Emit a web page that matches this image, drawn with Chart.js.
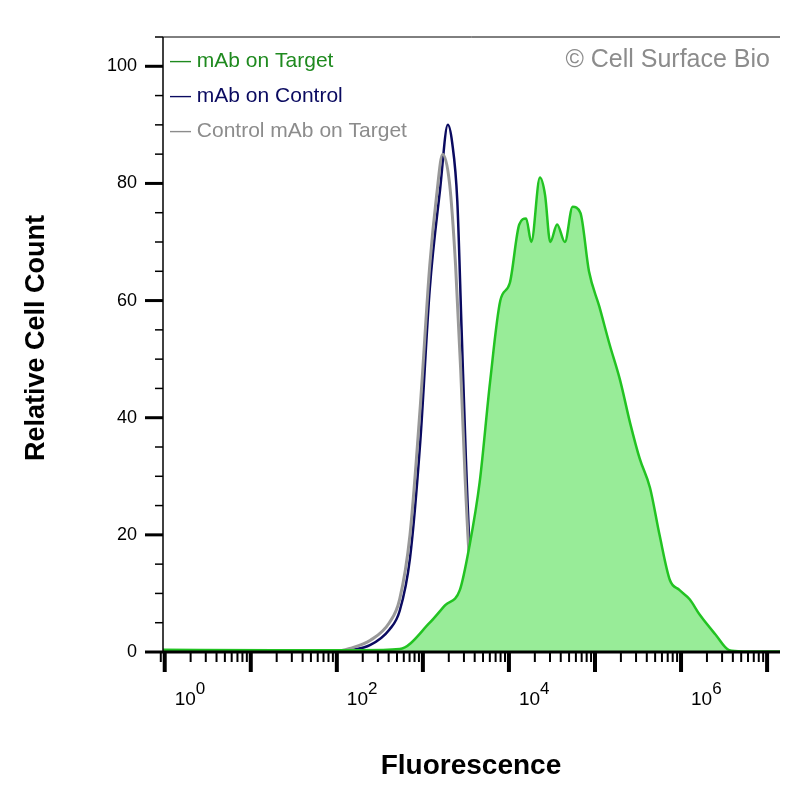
<!DOCTYPE html>
<html><head><meta charset="utf-8">
<script src="https://cdn.jsdelivr.net/npm/chart.js@4"></script>
<style>body{margin:0;background:#fff}#wrap{width:800px;height:800px}</style>
</head><body><div id="wrap"><canvas id="c"></canvas></div>
<script>
// x values are log10(fluorescence)
const targetX = [-0.02, 1.28, 2.27, 2.73, 3.08, 3.26, 3.43, 3.54, 3.66, 3.78, 3.9, 4.01, 4.12, 4.2, 4.26, 4.36, 4.42, 4.48, 4.56, 4.65, 4.74, 4.83, 4.93, 5.05, 5.17, 5.29, 5.41, 5.52, 5.64, 5.75, 5.87, 5.98, 6.1, 6.22, 6.4, 6.56, 6.71, 7.2];
const targetY = [0.4, 0.3, 0.3, 0.5, 5, 8, 10.6, 18, 29, 46, 60, 63, 73, 74, 70, 81, 78, 70, 73, 70, 76, 75, 65, 59, 52.5, 46.5, 39, 33, 28, 20, 12.3, 10.6, 9, 6.3, 3, 0.3, 0.1, 0.1];
const controlX = [1.97, 2.15, 2.39, 2.61, 2.73, 2.85, 2.97, 3.08, 3.2, 3.29, 3.34, 3.4, 3.45, 3.5, 3.55, 3.66, 3.78, 3.9, 4.12, 4.34];
const controlY = [0, 0.3, 1.2, 3.8, 7, 16, 36, 62, 79, 90, 87, 77, 55, 33, 16, 5.5, 2.4, 1.2, 0.7, 0.1];
const isoX = [1.97, 2.15, 2.39, 2.61, 2.73, 2.85, 2.97, 3.08, 3.16, 3.23, 3.31, 3.38, 3.44, 3.49, 3.54, 3.66, 3.78, 3.9, 4.12, 4.34];
const isoY = [0, 0.6, 2, 5, 9, 20, 42, 66, 78, 85, 80, 66, 48, 30, 16, 6, 2.5, 1, 0.4, 0.1];
const legendNames = ['mAb on Target', 'mAb on Control', 'Control mAb on Target'];
const legendColors = ['#1f8a1f', '#0a0a60', '#8c8c8c'];
const decades = [0, 2, 4, 6];

const pts = (xs, ys) => xs.map((x, i) => ({x: x, y: ys[i]}));
const FONT = 'Arial, "Liberation Sans"';

const overlay = {
  id: 'overlay',
  afterDraw(chart) {
    const ctx = chart.ctx, a = chart.chartArea;
    const xs = chart.scales.x, ys = chart.scales.y;
    ctx.save();
    ctx.strokeStyle = '#000';
    ctx.lineWidth = 1;
    ctx.beginPath(); ctx.moveTo(a.left, a.top); ctx.lineTo(a.right, a.top); ctx.stroke();
    ctx.lineWidth = 1.5;
    ctx.beginPath(); ctx.moveTo(a.left, a.top); ctx.lineTo(a.left, a.bottom); ctx.stroke();
    ctx.lineWidth = 3;
    ctx.beginPath(); ctx.moveTo(a.left, a.bottom); ctx.lineTo(a.right, a.bottom); ctx.stroke();
    for (let v = 0; v <= 105; v += 5) {
      const p = ys.getPixelForValue(v);
      const major = v % 20 === 0;
      ctx.lineWidth = major ? 3 : 1.5;
      ctx.beginPath(); ctx.moveTo(a.left - (major ? 18 : 8), p); ctx.lineTo(a.left, p); ctx.stroke();
    }
    for (let d = -1; d <= 7; d++) {
      for (let k = 1; k <= 9; k++) {
        const v = d + Math.log10(k);
        if (v < xs.min - 0.03 || v > xs.max) continue;
        const p = xs.getPixelForValue(v);
        const major = k === 1;
        ctx.lineWidth = major ? 4 : 2;
        ctx.beginPath(); ctx.moveTo(p, a.bottom); ctx.lineTo(p, a.bottom + (major ? 20 : 10)); ctx.stroke();
      }
    }
    ctx.fillStyle = '#000';
    decades.forEach(d => {
      const p = xs.getPixelForValue(d);
      ctx.font = '19px ' + FONT;
      ctx.textAlign = 'left'; ctx.textBaseline = 'alphabetic';
      ctx.fillText('10', p + 10, a.bottom + 53);
      const w = ctx.measureText('10').width;
      ctx.font = '17px ' + FONT;
      ctx.fillText(String(d), p + 10 + w, a.bottom + 42);
    });
    ctx.font = 'bold 28px ' + FONT;
    ctx.textAlign = 'center';
    ctx.fillText('Fluorescence', 471, 774);
    ctx.save();
    ctx.translate(44, 338);
    ctx.rotate(-Math.PI / 2);
    ctx.font = 'bold 27px ' + FONT;
    ctx.fillText('Relative Cell Count', 0, 0);
    ctx.restore();
    ctx.font = '21px ' + FONT;
    ctx.textAlign = 'left'; ctx.textBaseline = 'middle';
    legendNames.forEach((n, i) => {
      ctx.fillStyle = legendColors[i];
      ctx.fillText('\u2014 ' + n, a.left + 7, 61 + i * 35);
    });
    ctx.fillStyle = '#8c8c8c';
    ctx.font = '25px ' + FONT;
    ctx.textAlign = 'right';
    ctx.fillText('\u00a9 Cell Surface Bio', a.right - 10, 60);
    ctx.restore();
  }
};

new Chart(document.getElementById('c'), {
  type: 'line',
  data: {
    datasets: [
      {label: legendNames[0], data: pts(targetX, targetY), borderColor: '#22c322', backgroundColor: '#98ec98', fill: 'origin', borderWidth: 2.5, pointRadius: 0, cubicInterpolationMode: 'monotone'},
      {label: legendNames[2], data: pts(isoX, isoY), borderColor: '#999999', fill: false, borderWidth: 3, pointRadius: 0, cubicInterpolationMode: 'monotone'},
      {label: legendNames[1], data: pts(controlX, controlY), borderColor: '#0a0a60', fill: false, borderWidth: 2.5, pointRadius: 0, cubicInterpolationMode: 'monotone'}
    ]
  },
  options: {
    responsive: true, maintainAspectRatio: false, animation: false,
    layout: {padding: {left: 0, right: 20, top: 37, bottom: 0}},
    plugins: {legend: {display: false}, tooltip: {enabled: false}},
    scales: {
      x: {type: 'linear', min: -0.02, max: 7.15, grid: {display: false, drawTicks: false}, border: {display: false}, ticks: {display: false},
        afterFit(s) { s.height = 148; }},
      y: {min: 0, max: 105, grid: {display: false, drawTicks: false}, border: {display: false},
        ticks: {stepSize: 20, padding: 26, color: '#000', font: {size: 18, family: FONT},
          callback: v => v % 20 === 0 && v <= 100 ? v : ''},
        afterFit(s) { s.width = 163; }}
    }
  },
  plugins: [overlay]
});
</script></body></html>
